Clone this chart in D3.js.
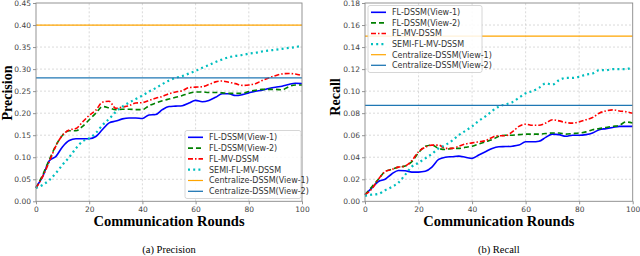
<!DOCTYPE html>
<html>
<head>
<meta charset="utf-8">
<script src="https://cdn.jsdelivr.net/npm/d3@7"></script>
<style>
  body{margin:0;background:#fff;}
  svg{display:block;}
  .tick text{font-family:"DejaVu Sans",sans-serif;fill:#444;}
  .leg text{font-family:"DejaVu Sans",sans-serif;fill:#333;}
  .title{font-family:"Liberation Serif","Times New Roman",serif;font-weight:bold;fill:#000;}
  .caption{font-family:"Liberation Serif","Times New Roman",serif;fill:#000;}
</style>
</head>
<body>
<svg id="chart" width="640" height="256"></svg>
<script>
// communication rounds at which values were read
const rounds = [0,2.5,5,7.5,10,12.5,15,17.5,20,22.5,25,27.5,30,32.5,35,37.5,40,42.5,45,47.5,50,
  52.5,55,57.5,60,62.5,65,67.5,70,72.5,75,77.5,80,82.5,85,87.5,90,92.5,95,97.5,100];

const seriesNames = ['FL-DSSM(View-1)','FL-DSSM(View-2)','FL-MV-DSSM','SEMI-FL-MV-DSSM',
  'Centralize-DSSM(View-1)','Centralize-DSSM(View-2)'];

// precision
const precFl1 = [0.032,0.056,0.092,0.102,0.124,0.138,0.142,0.142,0.142,0.147,0.163,0.178,0.182,0.187,0.189,0.189,0.188,0.196,0.197,0.208,0.215,
  0.216,0.217,0.223,0.229,0.226,0.229,0.236,0.244,0.244,0.240,0.242,0.246,0.250,0.252,0.256,0.259,0.261,0.265,0.268,0.267];
const precFl2 = [0.030,0.060,0.094,0.127,0.150,0.160,0.160,0.170,0.185,0.200,0.215,0.212,0.208,0.209,0.209,0.208,0.208,0.217,0.223,0.228,0.232,
  0.236,0.240,0.245,0.248,0.248,0.247,0.247,0.246,0.245,0.245,0.245,0.249,0.252,0.254,0.254,0.254,0.253,0.260,0.264,0.264];
const precMv = [0.030,0.056,0.090,0.126,0.150,0.162,0.165,0.180,0.195,0.207,0.225,0.227,0.211,0.214,0.217,0.223,0.224,0.229,0.234,0.238,0.244,
  0.248,0.251,0.258,0.259,0.260,0.265,0.271,0.273,0.270,0.267,0.263,0.264,0.267,0.274,0.280,0.285,0.289,0.290,0.289,0.285];
const precSemi = [0.030,0.037,0.048,0.064,0.083,0.100,0.120,0.136,0.143,0.155,0.173,0.187,0.203,0.215,0.224,0.232,0.240,0.249,0.257,0.266,0.274,
  0.280,0.284,0.290,0.296,0.303,0.309,0.316,0.322,0.327,0.330,0.332,0.335,0.337,0.340,0.342,0.344,0.346,0.348,0.350,0.353];
const precCentral = [0.40, 0.28];
const precTicks = [0,0.05,0.10,0.15,0.20,0.25,0.30,0.35,0.40,0.45];

// recall
const recFl1 = [0.006,0.012,0.018,0.020,0.0248,0.028,0.0278,0.0265,0.0265,0.0272,0.031,0.038,0.040,0.0405,0.041,0.040,0.039,0.042,0.045,0.048,0.0495,
  0.0497,0.050,0.051,0.054,0.054,0.0545,0.058,0.061,0.0605,0.059,0.060,0.060,0.0605,0.062,0.065,0.066,0.067,0.068,0.068,0.068];
const recFl2 = [0.006,0.013,0.020,0.027,0.029,0.031,0.032,0.036,0.044,0.050,0.051,0.048,0.047,0.048,0.048,0.049,0.050,0.052,0.054,0.056,0.059,
  0.060,0.060,0.0605,0.061,0.061,0.061,0.0615,0.062,0.062,0.061,0.0615,0.062,0.063,0.065,0.066,0.067,0.068,0.069,0.072,0.071];
const recMv = [0.006,0.011,0.020,0.027,0.029,0.031,0.032,0.037,0.045,0.049,0.051,0.051,0.048,0.048,0.050,0.052,0.053,0.054,0.055,0.058,0.0595,
  0.0595,0.063,0.068,0.070,0.069,0.069,0.071,0.074,0.073,0.0715,0.071,0.072,0.074,0.076,0.080,0.082,0.083,0.082,0.0813,0.080];
const recSemi = [0.005,0.006,0.0067,0.010,0.013,0.017,0.024,0.0315,0.035,0.039,0.043,0.048,0.051,0.055,0.060,0.064,0.068,0.073,0.077,0.082,0.086,
  0.088,0.090,0.094,0.098,0.100,0.103,0.107,0.106,0.110,0.112,0.112,0.113,0.115,0.116,0.119,0.119,0.120,0.120,0.120,0.122];
const recCentral = [0.15, 0.087];
const recTicks = [0,0.02,0.04,0.06,0.08,0.10,0.12,0.14,0.16,0.18];

const xTicks = [0,20,40,60,80,100];

const styles = [
  {color:'#0000ff', width:1.6, dash:null},
  {color:'#008000', width:1.6, dash:'5,3'},
  {color:'#ff0000', width:1.6, dash:'5,2,1.5,2'},
  {color:'#00bfbf', width:2.2, dash:'2,3.2'},
  {color:'#ffa500', width:1.2, dash:null},
  {color:'#1f77b4', width:1.3, dash:null}
];

const svg = d3.select('#chart');

function drawPanel(p){
  const x = d3.scaleLinear().domain([0,100]).range([p.left, p.right]);
  const y = d3.scaleLinear().domain([0, p.ymax]).range([201.3, 3]);
  const g = svg.append('g');

  // grid
  g.append('g').selectAll('line.vg').data(xTicks.slice(1,-1)).enter().append('line')
    .attr('x1', d=>x(d)).attr('x2', d=>x(d)).attr('y1', y(0)).attr('y2', y(p.ymax))
    .attr('stroke','#d0d0d0').attr('stroke-width',0.8).attr('stroke-dasharray','2,2');
  g.append('g').selectAll('line.hg').data(p.ticks.slice(1,-1)).enter().append('line')
    .attr('x1', x(0)).attr('x2', x(100)).attr('y1', d=>y(d)).attr('y2', d=>y(d))
    .attr('stroke','#d0d0d0').attr('stroke-width',0.8).attr('stroke-dasharray','2,2');

  // axes
  const xa = g.append('g').attr('transform','translate(0,'+y(0)+')')
    .call(d3.axisBottom(x).tickValues(xTicks).tickFormat(d3.format('d')).tickSize(3).tickPadding(2));
  const ya = g.append('g').attr('transform','translate('+x(0)+',0)')
    .call(d3.axisLeft(y).tickValues(p.ticks).tickFormat(d3.format(p.fmt)).tickSize(3).tickPadding(2));
  [xa, ya].forEach(a=>{
    a.select('.domain').remove();
    a.selectAll('.tick line').attr('stroke','#666').attr('stroke-width',0.7);
    a.selectAll('.tick text').attr('font-size',7.5);
  });

  // series
  const line = d3.line().x((d,i)=>x(rounds[i])).y(d=>y(d)).curve(d3.curveMonotoneX);
  p.series.forEach((s,i)=>{
    g.append('path').datum(s).attr('d', line).attr('fill','none')
      .attr('stroke', styles[i].color).attr('stroke-width', styles[i].width)
      .attr('stroke-dasharray', styles[i].dash);
  });
  p.central.forEach((v,i)=>{
    const st = styles[4+i];
    g.append('line').attr('x1',x(0)).attr('x2',x(100)).attr('y1',y(v)).attr('y2',y(v))
      .attr('stroke', st.color).attr('stroke-width', st.width);
  });

  // frame
  g.append('rect').attr('x',x(0)).attr('y',y(p.ymax)).attr('width',x(100)-x(0)).attr('height',y(0)-y(p.ymax))
    .attr('fill','none').attr('stroke','#888').attr('stroke-width',0.9);

  // legend
  const leg = g.append('g').attr('class','leg');
  leg.append('rect').attr('x',p.leg.x).attr('y',p.leg.y).attr('width',p.leg.w).attr('height',p.leg.h)
    .attr('fill','#fff').attr('fill-opacity',0.85).attr('stroke','#ccc').attr('stroke-width',0.8).attr('rx',2);
  seriesNames.forEach((n,i)=>{
    const ry = p.leg.y + 6.8 + i*p.leg.step;
    leg.append('line').attr('x1',p.leg.x+3).attr('x2',p.leg.x+18).attr('y1',ry).attr('y2',ry)
      .attr('stroke',styles[i].color).attr('stroke-width',styles[i].width).attr('stroke-dasharray',styles[i].dash);
    leg.append('text').attr('x',p.leg.x+24).attr('y',ry).attr('dy','0.35em').attr('font-size',8).text(n);
  });

  // titles
  const cx = (x(0)+x(100))/2;
  g.append('text').attr('class','title').attr('x',cx).attr('y',226).attr('text-anchor','middle')
    .attr('font-size',14.5).text('Communication Rounds');
  g.append('text').attr('class','title').attr('text-anchor','middle').attr('font-size',14)
    .attr('transform','translate('+p.ylabX+','+p.ylabY+') rotate(-90)').text(p.ylabel);
  g.append('text').attr('class','caption').attr('x',cx).attr('y',253).attr('text-anchor','middle')
    .attr('font-size',10.5).text(p.caption);
}

drawPanel({left:36, right:302, ymax:0.45, ticks:precTicks, fmt:'.2f',
  series:[precFl1,precFl2,precMv,precSemi], central:precCentral,
  leg:{x:185, y:130.5, w:116, h:68, step:10.8},
  ylabel:'Precision', ylabX:12, ylabY:93, caption:'(a) Precision'});
drawPanel({left:365, right:632.7, ymax:0.18, ticks:recTicks, fmt:'.2f',
  series:[recFl1,recFl2,recMv,recSemi], central:recCentral,
  leg:{x:368, y:5.5, w:114, h:67, step:10.6},
  ylabel:'Recall', ylabX:340, ylabY:97, caption:'(b) Recall'});
</script>
</body>
</html>
